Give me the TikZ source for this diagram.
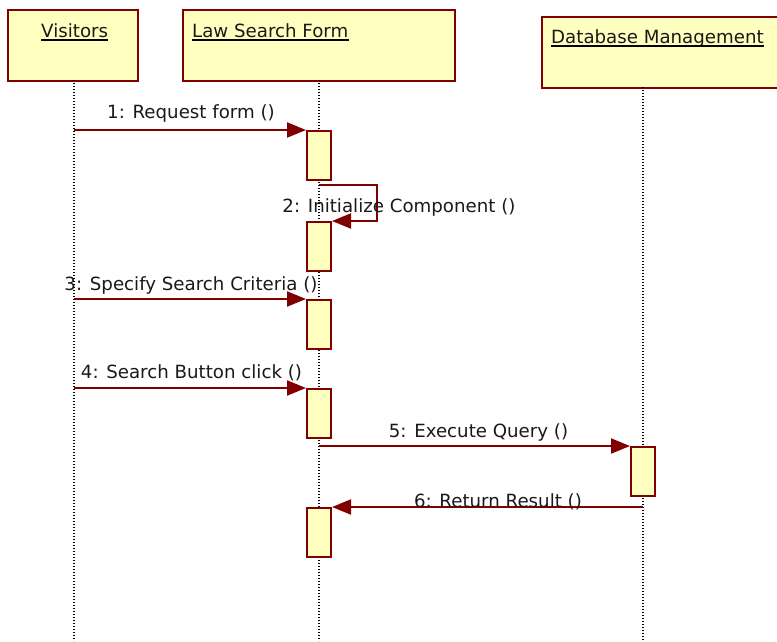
\documentclass[tikz,border=0pt]{standalone}
\usepackage{fontspec}
\setmainfont{DejaVu Sans}
\usetikzlibrary{arrows.meta}
\definecolor{umlred}{RGB}{128,0,0}
\definecolor{umlfill}{RGB}{255,255,192}
\begin{document}
\begin{tikzpicture}[x=1pt,y=-1pt,
  objbox/.style={draw=umlred,fill=umlfill,line width=2.4pt,anchor=north west,inner sep=0pt,minimum height=71pt},
  actbox/.style={draw=umlred,fill=umlfill,line width=2pt,minimum width=24pt,minimum height=49pt,anchor=north,inner sep=0pt},
  lifeline/.style={line width=1.1pt,dash pattern=on 1.1pt off 1.9pt},
  msg/.style={draw=umlred,line width=2pt,-{Triangle[length=19pt,width=15pt]}},
  lbl/.style={anchor=base,font=\fontsize{18.2}{20}\selectfont,inner sep=0pt,text=black!90},
  hdr/.style={anchor=base west,font=\fontsize{18.2}{20}\selectfont,inner sep=0pt,text=black!90},
  uline/.style={line width=1.6pt}]
\useasboundingbox (0,0) rectangle (777,641);
% object boxes
\node[objbox,minimum width=130pt] (vis) at (7,9) {};
\node[objbox,minimum width=272pt] (lsf) at (182,9) {};
\node[objbox,minimum width=250pt] (dbm) at (541,16) {};
% headers
\node[hdr] (tv) at (41,37) {Visitors};
\node[hdr] (tl) at (192,37) {Law Search Form};
\node[hdr] (td) at (551,43) {Database Management};
\draw[uline] ([yshift=-3pt]tv.base west) -- ([yshift=-3pt]tv.base east);
\draw[uline] ([yshift=-3pt]tl.base west) -- ([yshift=-3pt]tl.base east);
\draw[uline] ([yshift=-3pt]td.base west) -- ([yshift=-3pt]td.base east);
% lifelines
\coordinate (visTop) at (74,80);
\coordinate (visBot) at (74,641);
\coordinate (lsfTop) at (319,80);
\coordinate (lsfBot) at (319,641);
\coordinate (dbTop) at (643,87);
\coordinate (dbBot) at (643,641);
\draw[lifeline] (visTop) -- (visBot);
\draw[lifeline] (lsfTop) -- (lsfBot);
\draw[lifeline] (dbTop) -- (dbBot);
% activations
\node[actbox] (a1) at (319,130) {};
\node[actbox] (a2) at (319,221) {};
\node[actbox] (a3) at (319,299) {};
\node[actbox] (a4) at (319,388) {};
\node[actbox] (a6) at (319,507) {};
\node[actbox] (d5) at (643,446) {};
% messages
\draw[msg] (a1.north west -| visTop) -- (a1.north west);
\draw[msg] ([yshift=-4pt]a1.south) -- ++(58,0) |- (a2.north east);
\draw[msg] (a3.north west -| visTop) -- (a3.north west);
\draw[msg] (a4.north west -| visTop) -- (a4.north west);
\draw[msg] (d5.north west -| lsfTop) -- (d5.north west);
\draw[msg] (a6.north east -| dbTop) -- (a6.north east);
% labels
\node[lbl] (l1) at (191,118) {1: Request form ()};
\node[lbl] (l2) at (399,212) {2: Initialize Component ()};
\node[lbl] (l3) at (191,290) {3: Specify Search Criteria ()};
\node[lbl] (l4) at (191.5,378) {4: Search Button click ()};
\node[lbl] (l5) at (478.5,437) {5: Execute Query ()};
\node[lbl] (l6) at (498,507) {6: Return Result ()};
\end{tikzpicture}
\end{document}
